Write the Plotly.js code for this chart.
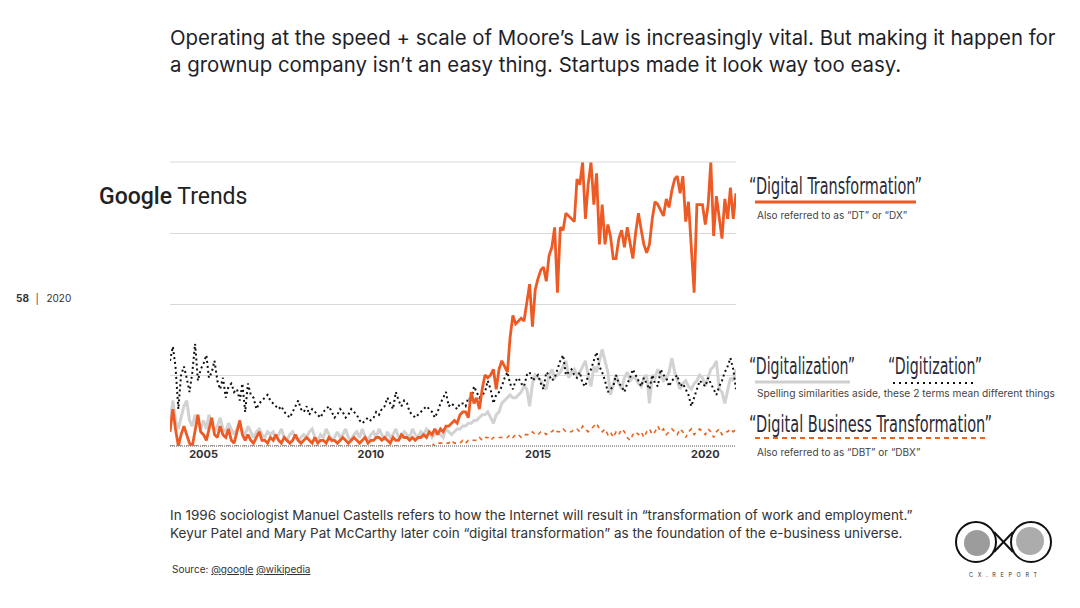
<!DOCTYPE html>
<html>
<head>
<meta charset="utf-8">
<script src="https://cdn.plot.ly/plotly-3.0.1.min.js"></script>
<style>
html,body{margin:0;padding:0;background:#fff;}
#chart{width:1080px;height:608px;}
</style>
</head>
<body>
<div id="chart"></div>
<script>
// ---- data (Google Trends, monthly interest 0-100) ----
const startYear = 2004;
const endYear = 2020;
const yearTicks = ['2005', '2010', '2015', '2020'];

const digitalTransformation = [
  5, 13, 6, 0, 4, 7, 4, 1, 0, 6, 11, 5,
  4, 2, 6, 10, 4, 3, 7, 4, 3, 6, 2, 1,
  5, 9, 4, 2, 4, 2, 1, 3, 5, 2, 2, 1,
  3, 2, 4, 2, 1, 3, 2, 1, 2, 4, 2, 1,
  2, 3, 2, 1, 3, 1, 2, 2, 1, 3, 2, 2,
  1, 2, 3, 2, 1, 2, 3, 2, 1, 2, 3, 1,
  2, 2, 3, 3, 2, 3, 2, 1, 3, 2, 2, 4,
  3, 3, 2, 3, 2, 3, 3, 4, 3, 5, 4, 6,
  4, 6, 5, 7, 7, 8, 9, 8, 11, 12, 12, 10,
  19, 15, 17, 13, 20, 25, 24, 25, 27, 20, 27, 30,
  28, 26, 38, 46, 43, 44, 45, 44, 51, 57, 42, 55,
  59, 62, 63, 58, 67, 70, 77, 54, 77, 76, 82, 81,
  80, 79, 94, 92, 100, 80, 92, 100, 85, 96, 71, 85,
  71, 78, 74, 66, 66, 73, 76, 70, 77, 72, 66, 75,
  82, 76, 71, 68, 71, 80, 86, 85, 83, 81, 87, 84,
  90, 94, 95, 89, 95, 79, 86, 70, 54, 85, 85, 85,
  78, 85, 100, 74, 88, 80, 73, 87, 80, 91, 80, 89
];

const digitalization = [
  7, 16, 9, 6, 10, 14, 16, 9, 7, 11, 8, 6,
  9, 6, 11, 8, 5, 7, 10, 6, 5, 8, 6, 4,
  6, 8, 5, 4, 7, 5, 3, 5, 6, 4, 3, 5,
  4, 5, 3, 4, 6, 3, 2, 4, 5, 3, 2, 3,
  4, 3, 5, 6, 3, 2, 4, 3, 6, 4, 2, 3,
  5, 3, 4, 6, 3, 2, 4, 5, 3, 6, 3, 2,
  4, 5, 3, 6, 4, 2, 5, 3, 4, 6, 3, 3,
  5, 4, 3, 6, 4, 3, 5, 4, 6, 5, 3, 4,
  5, 4, 3, 6, 5, 4, 5, 6, 6, 7, 7, 8,
  8, 9, 9, 10, 11, 11, 12, 10, 8, 11, 12, 15,
  16, 17, 18, 17, 17, 18, 19, 21, 20, 14, 22, 25,
  24, 23, 21, 20, 25, 27, 24, 25, 26, 28, 30, 24,
  26, 27, 25, 26, 28, 30, 25, 21, 28, 26, 30, 34,
  30, 26, 18, 22, 25, 22, 20, 24, 26, 23, 24, 24,
  22, 21, 24, 25, 15, 25, 24, 27, 25, 23, 24, 26,
  31, 26, 23, 20, 22, 23, 21, 20, 22, 23, 25, 24,
  21, 24, 27, 28, 30, 20, 19, 15, 20, 24, 23, 27
];

const digitization = [
  30, 35, 28, 13, 25, 28, 24, 19, 26, 36, 23, 27,
  29, 32, 24, 26, 30, 23, 20, 24, 17, 21, 22, 19,
  20, 16, 22, 12, 22, 18, 17, 13, 15, 16, 17, 18,
  16, 15, 14, 13, 14, 12, 11, 10, 12, 14, 16, 13,
  12, 14, 11, 13, 12, 11, 10, 12, 13, 14, 12, 10,
  11, 13, 12, 10, 11, 13, 12, 11, 9, 8, 9, 10,
  9, 10, 12, 11, 13, 14, 17, 15, 13, 19, 16, 14,
  16, 15, 12, 11, 10, 11, 12, 13, 14, 13, 12, 10,
  12, 15, 17, 19, 14, 15, 14, 13, 15, 15, 14, 17,
  16, 21, 19, 17, 18, 19, 23, 20, 15, 18, 19, 21,
  24, 26, 22, 20, 23, 24, 22, 21, 25, 26, 23, 24,
  25, 22, 20, 26, 25, 23, 24, 27, 30, 32, 25, 26,
  27, 25, 24, 26, 22, 21, 25, 27, 30, 33, 28, 26,
  23, 19, 20, 21, 25, 22, 21, 19, 22, 24, 27, 25,
  23, 21, 24, 22, 20, 25, 22, 21, 27, 25, 24, 21,
  23, 24, 25, 21, 22, 20, 18, 14, 17, 20, 23, 22,
  21, 24, 22, 20, 18, 21, 23, 26, 28, 31, 27, 20
];

const digitalBusinessTransformation = [
  0, 0, 0, 0, 0, 0, 0, 0, 0, 0, 0, 0,
  0, 0, 0, 0, 0, 0, 0, 0, 0, 0, 0, 0,
  0, 0, 0, 0, 0, 0, 0, 0, 0, 0, 0, 0,
  0, 0, 0, 0, 0, 0, 0, 0, 0, 0, 0, 0,
  0, 0, 0, 0, 0, 0, 0, 0, 0, 0, 0, 0,
  0, 0, 0, 0, 0, 0, 0, 0, 0, 0, 0, 0,
  0, 0, 0, 0, 0, 0, 0, 0, 0, 0, 0, 0,
  0, 0, 0, 0, 0, 0, 0, 0, 0, 0, 1, 0,
  1, 1, 1, 1, 1, 2, 1, 1, 1, 2, 1, 2,
  2, 2, 2, 3, 2, 3, 3, 2, 3, 3, 3, 3,
  3, 3, 4, 3, 4, 4, 3, 4, 4, 4, 5, 4,
  4, 5, 5, 4, 5, 5, 6, 5, 5, 6, 5, 5,
  5, 6, 6, 5, 7, 6, 5, 6, 7, 8, 6, 5,
  6, 4, 5, 3, 5, 4, 6, 5, 3, 2, 4, 5,
  4, 5, 3, 5, 6, 4, 5, 7, 5, 6, 4, 5,
  6, 5, 4, 6, 5, 3, 5, 6, 4, 5, 6, 5,
  4, 6, 5, 3, 5, 6, 4, 5, 5, 6, 5, 6
];

// monthly date axis
const months = [];
for (let y = startYear; y <= endYear; y++) {
  for (let m = 1; m <= 12; m++) months.push(y + '-' + String(m).padStart(2, '0') + '-01');
}

// ---- layout geometry ----
const W = 1080, H = 608;
const PL = 170, PR = 736, PT = 162, PB = 446;
const px = x => (x - PL) / (PR - PL);      // pixel -> paper x
const py = y => (PB - y) / (PB - PT);      // pixel -> paper y

const FONT = 'Inter, Roboto, "Noto Sans", sans-serif';
const COND = '"DejaVu Sans Condensed", "DejaVu Sans", sans-serif';
const ORANGE = '#ee5a24';

const traces = [
  {x: months, y: digitalization, type: 'scatter', mode: 'lines',
   line: {color: '#d2d2d2', width: 3}, hoverinfo: 'skip'},
  {x: months, y: digitization, type: 'scatter', mode: 'lines',
   line: {color: '#111111', width: 2, dash: '2px,3px'}, hoverinfo: 'skip'},
  {x: months, y: digitalBusinessTransformation, type: 'scatter', mode: 'lines',
   line: {color: '#e8641e', width: 1.6, dash: '4px,4px'}, hoverinfo: 'skip'},
  {x: months, y: digitalTransformation, type: 'scatter', mode: 'lines',
   line: {color: ORANGE, width: 2.8}, hoverinfo: 'skip'}
];

function ann(text, x, y, opts) {
  return Object.assign({
    text: text, xref: 'paper', yref: 'paper', x: px(x), y: py(y),
    xanchor: 'left', yanchor: 'middle', showarrow: false, align: 'left',
    font: {family: FONT, size: 10, color: '#333'}
  }, opts || {});
}

const COND_SIZE = 15, COND_TARGET = 23;
const condFont = {family: COND, size: COND_SIZE, color: '#2a2a38'};
const annotations = [
  ann('Operating at the speed + scale of Moore’s Law is increasingly vital. But making it happen for<br>a grownup company isn’t an easy thing. Startups made it look way too easy.',
      168, 23, {yanchor: 'top', font: {family: FONT, size: 20.4, color: '#1f1f2a'}}),
  ann('<span style="font-weight:500">Google</span> Trends', 97, 196, {font: {family: 'Roboto, "Open Sans", sans-serif', size: 23, color: '#222'}}),
  ann('<b>58</b>  │  2020', 14, 299, {font: {family: FONT, size: 10, color: '#333'}}),

  ann('“Digital Transformation”', 749, 186, {font: condFont}),            // 3
  ann('Also referred to as “DT” or “DX”', 755, 215, {font: {family: FONT, size: 10, color: '#444'}}),
  ann('“Digitalization”', 749, 366, {font: condFont}),                    // 5
  ann('“Digitization”', 888, 366, {font: condFont}),                      // 6
  ann('Spelling similarities aside, these 2 terms mean different things', 755, 393, {font: {family: FONT, size: 10.2, color: '#444'}}),
  ann('“Digital Business Transformation”', 749, 424, {font: condFont}),   // 8
  ann('Also referred to as “DBT” or “DBX”', 755, 452, {font: {family: FONT, size: 10, color: '#444'}}),

  ann('In 1996 sociologist Manuel Castells refers to how the Internet will result in “transformation of work and employment.”<br>Keyur Patel and Mary Pat McCarthy later coin “digital transformation” as the foundation of the e-business universe.',
      168, 524, {font: {family: FONT, size: 13.5, color: '#333'}}),
  ann('Source: <span style="text-decoration:underline">@google</span> <span style="text-decoration:underline">@wikipedia</span>',
      170, 569, {font: {family: FONT, size: 10, color: '#333'}}),
  ann('C   X   .   R   E   P   O   R   T', 1003, 575, {xanchor: 'center', font: {family: FONT, size: 5.5, color: '#333'}})
];

// condensed headline labels: [annotation index, left px, width px]
const squeezeList = [[3, 749, 173], [5, 749, 106], [6, 888, 94], [8, 749, 243]];

function line(x0, y0, x1, y1, color, width, dash) {
  return {type: 'line', xref: 'paper', yref: 'paper', x0: px(x0), y0: py(y0), x1: px(x1), y1: py(y1),
          line: {color: color, width: width, dash: dash || 'solid'}};
}
function circle(cx, cy, r, fill, stroke, sw) {
  return {type: 'circle', xref: 'paper', yref: 'paper', x0: px(cx - r), x1: px(cx + r), y0: py(cy + r), y1: py(cy - r),
          fillcolor: fill, line: {color: stroke, width: sw}};
}

const shapes = [
  // top gridline (value 100)
  line(PL, PT, PR, PT, '#d9d9d9', 1),
  // baseline
  line(PL, PB, PR, PB, '#8a8a8a', 1.5, '1px,1px'),
  // legend underlines
  line(755, 202, 916, 202, ORANGE, 3),
  line(755, 382, 850, 382, '#cfcfcf', 3),
  line(893, 383, 977, 383, '#111', 2, '2px,4px'),
  line(755, 438, 985, 438, '#e8641e', 2, '5px,4px'),
  // logo
  circle(976, 542, 20, 'rgba(0,0,0,0)', '#111', 2),
  circle(1031, 542, 20, 'rgba(0,0,0,0)', '#111', 2),
  circle(977, 543, 13, '#9c9c9c', 'rgba(0,0,0,0)', 0),
  circle(1030, 541, 14, '#acacac', 'rgba(0,0,0,0)', 0),
  line(994, 532, 1013, 552, '#111', 2),
  line(994, 552, 1013, 532, '#111', 2)
];

const layout = {
  width: W, height: H,
  paper_bgcolor: '#ffffff', plot_bgcolor: '#ffffff',
  margin: {l: PL, r: W - PR, t: PT, b: H - PB, pad: 0},
  showlegend: false,
  font: {family: FONT, color: '#333'},
  xaxis: {
    type: 'date', range: [months[0], months[months.length - 1]],
    tickvals: yearTicks.map(y => y + '-01-01'), ticktext: yearTicks,
    tickfont: {family: FONT, size: 11, color: '#333', weight: 'bold'},
    showgrid: false, zeroline: false, showline: false, ticks: '', ticklen: 0,
    fixedrange: true
  },
  yaxis: {
    range: [0, 100], tickvals: [0, 25, 50, 75, 100], showticklabels: false,
    showgrid: true, gridcolor: '#d9d9d9', gridwidth: 1, zeroline: false, showline: false,
    ticks: '', fixedrange: true
  },
  annotations: annotations,
  shapes: shapes
};

Plotly.newPlot('chart', traces, layout, {displayModeBar: false, staticPlot: true}).then(gd => {
  const host = gd.getBoundingClientRect();
  const s = COND_TARGET / COND_SIZE;   // vertical enlargement of the condensed headline labels
  squeezeList.forEach(([idx, left, width]) => {
    const g = gd.querySelector('.annotation[data-index="' + idx + '"]');
    if (!g) return;
    const t = g.querySelector('text.annotation-text');
    if (!t) return;
    t.setAttribute('textLength', width);
    t.setAttribute('lengthAdjust', 'spacingAndGlyphs');
    const lb = t.getBBox();
    const bb = t.getBoundingClientRect();
    const dx = (left + host.left) - bb.left;
    const cy = lb.y + lb.height / 2;
    const prev = t.getAttribute('transform') || '';
    t.setAttribute('transform', prev + ' translate(' + dx + ',' + (cy * (1 - s)) + ') scale(1,' + s + ')');
  });
});
</script>
</body>
</html>
